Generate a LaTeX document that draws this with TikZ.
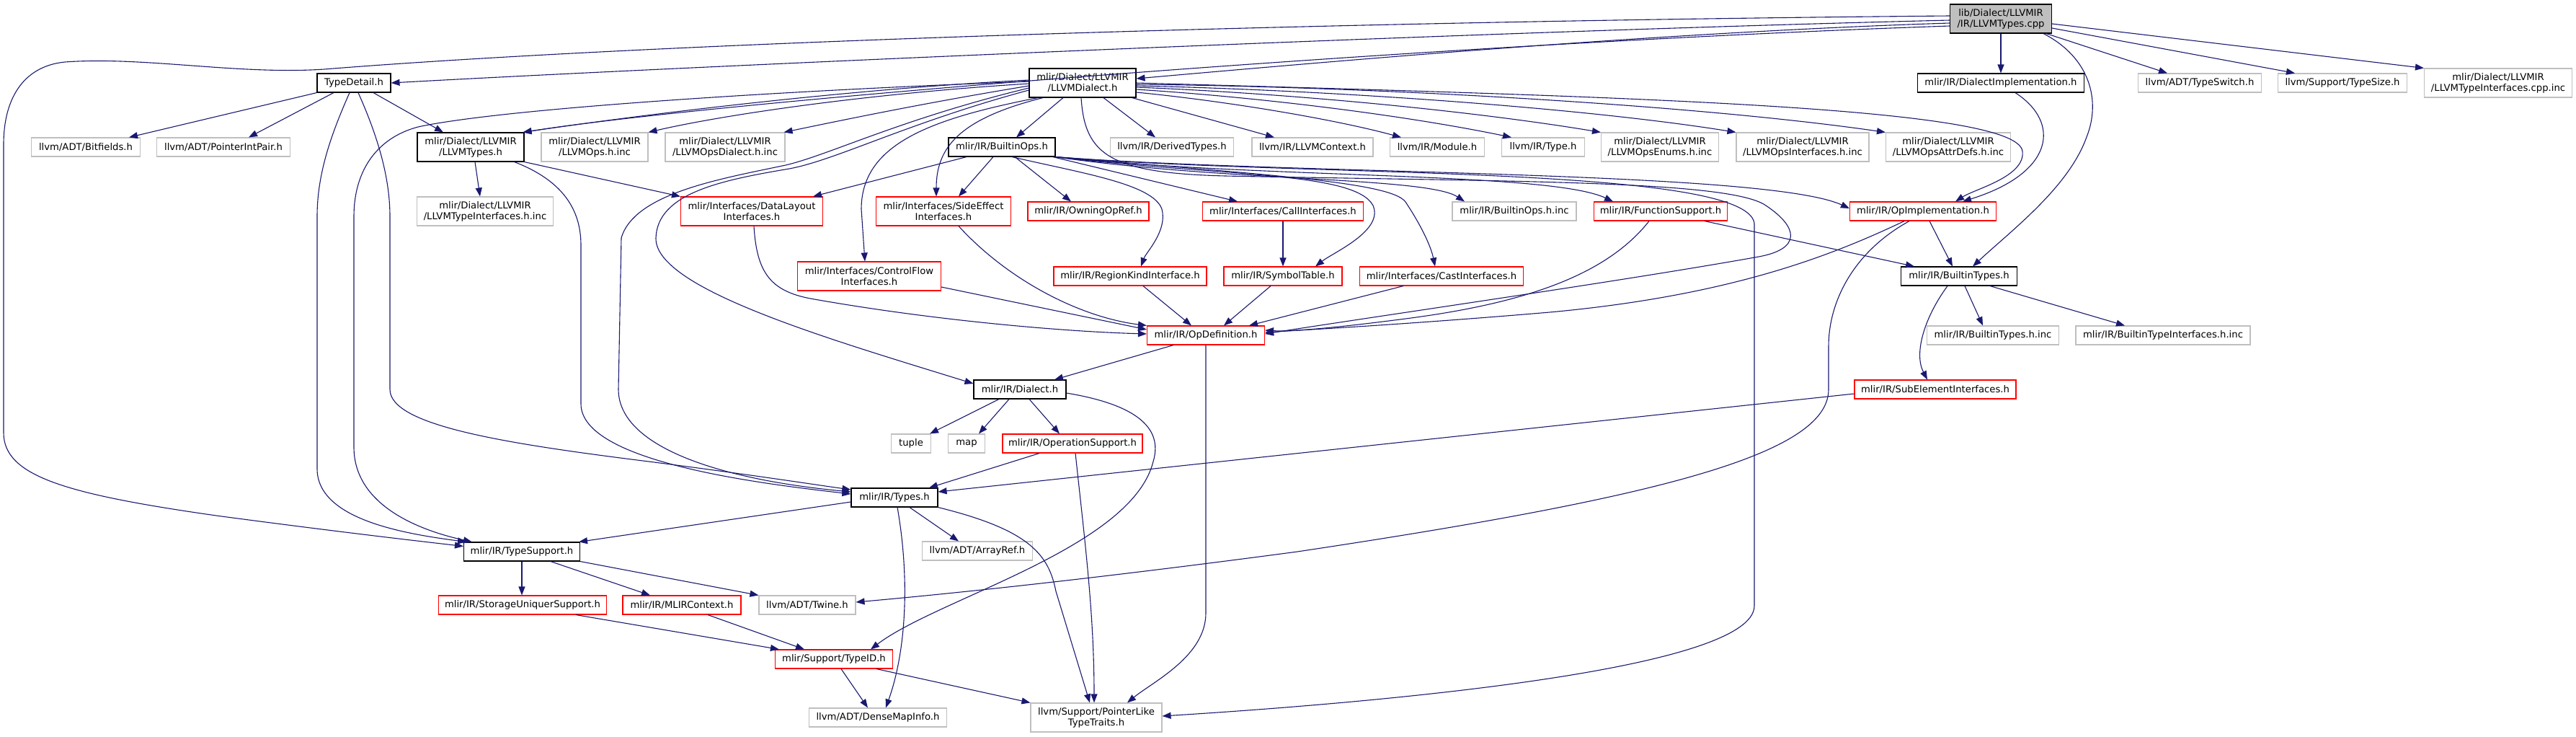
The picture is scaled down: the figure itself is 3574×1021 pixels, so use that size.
\documentclass[tikz,border=0pt]{standalone}
\usepackage{fontspec}
\newfontfamily\nodefam{DejaVu Sans}
\usetikzlibrary{arrows.meta}
\definecolor{edgec}{HTML}{191970}
\definecolor{grayb}{HTML}{BFBFBF}
\definecolor{mainfill}{HTML}{BFBFBF}
\definecolor{redb}{HTML}{FF0000}
\begin{document}
\begin{tikzpicture}[x=1pt,y=-1pt,
  box/.style={line width=1.1pt, inner sep=0pt, minimum height=26pt, align=center, font={\nodefam\fontsize{13.2}{15}\selectfont}},
  two/.style={minimum height=40pt},
  nb/.style={box, draw=black},
  ng/.style={box, draw=grayb},
  nr/.style={box, draw=redb},
  dep/.style={draw=edgec, line width=1.1pt, -{Triangle[length=12pt,width=9pt]}}]
\useasboundingbox (0,0) rectangle (3574,1021);
% nodes
\node[nb, two, fill=mainfill, minimum width=141pt] (cpp) at (2776,26) {lib/Dialect/LLVMIR\\/IR/LLVMTypes.cpp};
\node[nb, minimum width=102pt] (TD) at (491,115) {TypeDetail.h};
\node[nb, two, minimum width=148pt] (LD) at (1502,115) {mlir/Dialect/LLVMIR\\/LLVMDialect.h};
\node[nb, minimum width=231pt] (DI) at (2776,115) {mlir/IR/DialectImplementation.h};
\node[ng, minimum width=171pt] (TSw) at (3052,115) {llvm/ADT/TypeSwitch.h};
\node[ng, minimum width=179pt] (TSz) at (3250,115) {llvm/Support/TypeSize.h};
\node[ng, two, minimum width=205pt] (TIcpp) at (3466,115) {mlir/Dialect/LLVMIR\\/LLVMTypeInterfaces.cpp.inc};
\node[ng, minimum width=151pt] (BF) at (119,204) {llvm/ADT/Bitfields.h};
\node[ng, minimum width=185pt] (PIP) at (310,204) {llvm/ADT/PointerIntPair.h};
\node[nb, two, minimum width=148pt] (LT) at (653,204) {mlir/Dialect/LLVMIR\\/LLVMTypes.h};
\node[ng, two, minimum width=148pt] (LOI) at (825,204) {mlir/Dialect/LLVMIR\\/LLVMOps.h.inc};
\node[ng, two, minimum width=166pt] (LODI) at (1006,204) {mlir/Dialect/LLVMIR\\/LLVMOpsDialect.h.inc};
\node[nb, minimum width=148pt] (BO) at (1390,204) {mlir/IR/BuiltinOps.h};
\node[ng, minimum width=171pt] (DT) at (1626,204) {llvm/IR/DerivedTypes.h};
\node[ng, minimum width=168pt] (LC) at (1821,204) {llvm/IR/LLVMContext.h};
\node[ng, minimum width=131pt] (Mod) at (1994,204) {llvm/IR/Module.h};
\node[ng, minimum width=115pt] (Ty) at (2141,204) {llvm/IR/Type.h};
\node[ng, two, minimum width=163pt] (En) at (2303,204) {mlir/Dialect/LLVMIR\\/LLVMOpsEnums.h.inc};
\node[ng, two, minimum width=184pt] (OII) at (2501,204) {mlir/Dialect/LLVMIR\\/LLVMOpsInterfaces.h.inc};
\node[ng, two, minimum width=173pt] (AD) at (2703,204) {mlir/Dialect/LLVMIR\\/LLVMOpsAttrDefs.h.inc};
\node[ng, two, minimum width=189pt] (TII) at (673,293) {mlir/Dialect/LLVMIR\\/LLVMTypeInterfaces.h.inc};
\node[nr, two, minimum width=197pt] (DL) at (1043,293) {mlir/Interfaces/DataLayout\\Interfaces.h};
\node[nr, two, minimum width=187pt] (SE) at (1309,293) {mlir/Interfaces/SideEffect\\Interfaces.h};
\node[nr, minimum width=168pt] (OOR) at (1510,293) {mlir/IR/OwningOpRef.h};
\node[nr, minimum width=223pt] (CI) at (1780,293) {mlir/Interfaces/CallInterfaces.h};
\node[ng, minimum width=172pt] (BOI) at (2101,293) {mlir/IR/BuiltinOps.h.inc};
\node[nr, minimum width=185pt] (FS) at (2304,293) {mlir/IR/FunctionSupport.h};
\node[nr, minimum width=203pt] (OI) at (2668,293) {mlir/IR/OpImplementation.h};
\node[nr, two, minimum width=199pt] (CF) at (1206,383) {mlir/Interfaces/ControlFlow\\Interfaces.h};
\node[nr, minimum width=212pt] (RK) at (1568,383) {mlir/IR/RegionKindInterface.h};
\node[nr, minimum width=164pt] (ST) at (1780,383) {mlir/IR/SymbolTable.h};
\node[nr, minimum width=227pt] (CaI) at (2000,383) {mlir/Interfaces/CastInterfaces.h};
\node[nb, minimum width=161pt] (BT) at (2718,383) {mlir/IR/BuiltinTypes.h};
\node[nr, minimum width=163pt] (OD) at (1673,465) {mlir/IR/OpDefinition.h};
\node[ng, minimum width=183pt] (BTI) at (2765,465) {mlir/IR/BuiltinTypes.h.inc};
\node[ng, minimum width=242pt] (BTII) at (3001,465) {mlir/IR/BuiltinTypeInterfaces.h.inc};
\node[nb, minimum width=128pt] (Dia) at (1415,540) {mlir/IR/Dialect.h};
\node[nr, minimum width=224pt] (SEI) at (2685,540) {mlir/IR/SubElementInterfaces.h};
\node[ng, minimum width=55pt] (tup) at (1264,615) {tuple};
\node[ng, minimum width=51pt] (map) at (1341,615) {map};
\node[nr, minimum width=194pt] (OS) at (1488,615) {mlir/IR/OperationSupport.h};
\node[nb, minimum width=120pt] (Types) at (1241,690) {mlir/IR/Types.h};
\node[nb, minimum width=161pt] (TS) at (724,765) {mlir/IR/TypeSupport.h};
\node[ng, minimum width=153pt] (AR) at (1356,764) {llvm/ADT/ArrayRef.h};
\node[nr, minimum width=233pt] (SU) at (725,839) {mlir/IR/StorageUniquerSupport.h};
\node[nr, minimum width=164pt] (MC) at (946,839) {mlir/IR/MLIRContext.h};
\node[ng, minimum width=134pt] (Tw) at (1120,839) {llvm/ADT/Twine.h};
\node[nr, minimum width=163pt] (TID) at (1157,914) {mlir/Support/TypeID.h};
\node[ng, minimum width=191pt] (DMI) at (1218,995) {llvm/ADT/DenseMapInfo.h};
\node[ng, two, minimum width=182pt] (PL) at (1521,995) {llvm/Support/PointerLike\\TypeTraits.h};
% edges from cpp
\draw[dep] ([yshift=-2pt]cpp.west) .. controls (2000,45) and (900,95) .. (TD.east);
\draw[dep] ([yshift=-6pt]cpp.west) .. controls (2300,45) and (1850,85) .. ([yshift=6pt]LD.east);
\draw[dep] ([yshift=-10pt]cpp.west) .. controls (2000,60) and (1000,140) .. ([xshift=-2pt]LT.north east);
\draw[dep] ([yshift=4pt]cpp.west) .. controls (1800,30) and (900,60) .. (450,96) .. controls (330,104) and (200,78) .. (90,86) .. controls (30,92) and (5,140) .. (5,200) -- (5,600) .. controls (5,660) and (90,685) .. (300,715) .. controls (450,735) and (560,748) .. ([yshift=-6pt]TS.north west);
\draw[dep] (cpp.south) -- (DI.north);
\draw[dep] ([xshift=-8pt]cpp.south east) -- ([xshift=-45pt]TSw.north);
\draw[dep] ([yshift=-13pt]cpp.east) -- ([xshift=-66pt]TSz.north);
\draw[dep] ([yshift=-7pt]cpp.east) -- (TIcpp.north west);
\draw[dep] ([xshift=-12pt]cpp.south east) .. controls (2900,80) and (2915,140) .. (2895,190) .. controls (2870,260) and (2790,320) .. ([xshift=19pt]BT.north);
\draw[dep] ([xshift=20pt]DI.south) .. controls (2860,170) and (2850,240) .. ([xshift=55pt]OI.north);
% TypeDetail
\draw[dep] (TD.south west) -- ([xshift=60pt]BF.north);
\draw[dep] ([xshift=-28pt]TD.south) -- ([xshift=35pt]PIP.north);
\draw[dep] ([xshift=27pt]TD.south) -- ([xshift=-38pt]LT.north);
\draw[dep] ([xshift=-6pt]TD.south) .. controls (460,185) and (440,240) .. (440,300) -- (440,650) .. controls (440,720) and (560,740) .. ([xshift=4pt]TS.north west);
\draw[dep] ([xshift=6pt]TD.south) .. controls (520,180) and (541,240) .. (541,300) -- (541,540) .. controls (541,590) and (700,615) .. (900,640) .. controls (1040,658) and (1130,672) .. ([yshift=11pt]Types.west);
% LLVMDialect
\draw[dep] ([yshift=4pt]LD.west) .. controls (1150,125) and (850,165) .. ([xshift=-2pt]LT.north east);
\draw[dep] ([yshift=-1pt]LD.west) .. controls (1200,130) and (1000,160) .. (LOI.north east);
\draw[dep] ([yshift=-4pt]LD.west) .. controls (1300,140) and (1200,160) .. ([xshift=-2pt]LODI.north east);
\draw[dep] ([yshift=2pt]LD.west) .. controls (1100,125) and (700,150) .. (580,176) .. controls (520,192) and (491,240) .. (491,300) -- (491,620) .. controls (491,700) and (580,735) .. ([xshift=12pt]TS.north west);
\draw[dep] ([yshift=-7pt]LD.west) .. controls (1250,165) and (1150,215) .. (1090,229) .. controls (1000,248) and (880,268) .. (862,330) -- (858,540) .. controls (858,620) and (1000,665) .. ([yshift=8pt]Types.west);
\draw[dep] ([yshift=-10pt]LD.west) .. controls (1260,170) and (1160,222) .. (1095,234) .. controls (1000,250) and (912,268) .. (910,330) .. controls (908,400) and (1150,470) .. ([yshift=8pt]Dia.west);
\draw[dep] ([xshift=-62pt]LD.south) .. controls (1290,165) and (1195,200) .. (1195,290) -- ([xshift=-6pt]CF.north);
\draw[dep] ([xshift=-55pt]LD.south) .. controls (1330,165) and (1299,205) .. ([xshift=-10pt]SE.north);
\draw[dep] ([xshift=-27pt]LD.south) -- ([xshift=20pt]BO.north);
\draw[dep] ([xshift=29pt]LD.south) -- ([xshift=-23pt]DT.north);
\draw[dep] ([xshift=-6pt]LD.south east) -- ([xshift=-53pt]LC.north);
\draw[dep] ([yshift=-13pt]LD.east) .. controls (1700,140) and (1850,165) .. ([xshift=-50pt]Mod.north);
\draw[dep] ([yshift=-9pt]LD.east) .. controls (1750,135) and (1950,160) .. ([xshift=-44pt]Ty.north);
\draw[dep] ([yshift=-6pt]LD.east) .. controls (1800,130) and (2050,155) .. (En.north west);
\draw[dep] ([yshift=-4pt]LD.east) .. controls (1850,125) and (2200,150) .. (OII.north west);
\draw[dep] ([yshift=-2pt]LD.east) .. controls (1900,120) and (2350,145) .. (AD.north west);
\draw[dep] (LD.east) .. controls (2300,135) and (2800,150) .. (2806,210) .. controls (2810,245) and (2740,262) .. ([xshift=45pt]OI.north);
\draw[dep] ([xshift=-2pt]LD.south) .. controls (1505,215) and (1540,240) .. (1700,244) .. controls (2100,252) and (2400,250) .. (2450,285) .. controls (2495,315) and (2500,345) .. (2440,356) .. controls (2250,390) and (1900,440) .. ([yshift=2pt]OD.east);
% LLVMTypes
\draw[dep] ([xshift=6pt]LT.south) -- ([xshift=-7pt]TII.north);
\draw[dep] (LT.south east) -- (DL.north west);
\draw[dep] ([xshift=-14pt]LT.south east) .. controls (780,250) and (806,290) .. (806,340) -- (806,560) .. controls (806,640) and (1050,670) .. ([yshift=5pt]Types.west);
% BuiltinOps
\draw[dep] ([xshift=-49pt]BO.south) -- ([xshift=-14pt]DL.north east);
\draw[dep] ([xshift=-12pt]BO.south) -- ([xshift=21pt]SE.north);
\draw[dep] ([xshift=18pt]BO.south) -- ([xshift=-24pt]OOR.north);
\draw[dep] ([xshift=-4pt]BO.south east) -- ([xshift=-63pt]CI.north);
\draw[dep] ([xshift=14pt]BO.south) .. controls (1500,240) and (1600,255) .. (1612,290) .. controls (1620,320) and (1590,350) .. ([xshift=15pt]RK.north);
\draw[dep] ([xshift=-2pt]BO.south east) .. controls (1700,245) and (1880,238) .. (1905,285) .. controls (1920,320) and (1850,350) .. ([xshift=45pt]ST.north);
\draw[dep] (BO.south east) .. controls (1750,242) and (1930,252) .. (1950,280) .. controls (1970,310) and (1985,340) .. ([xshift=-9pt]CaI.north);
\draw[dep] (BO.south east) .. controls (1700,252) and (1980,245) .. ([xshift=-69pt]BOI.north);
\draw[dep] (BO.south east) .. controls (1750,248) and (2150,238) .. ([xshift=-66pt]FS.north);
\draw[dep] (BO.south east) .. controls (1780,242) and (2450,236) .. ([yshift=4pt]OI.west);
\draw[dep] (BO.south east) .. controls (1800,246) and (2425,228) .. (2434,310) -- (2434,840) .. controls (2434,930) and (1900,975) .. ([yshift=2pt]PL.east);
% middle
\draw[dep] (CI.south) -- (ST.north);
\draw[dep] ([xshift=-17pt]ST.south) -- ([xshift=25pt]OD.north);
\draw[dep] ([xshift=18pt]RK.south) -- ([xshift=-20pt]OD.north);
\draw[dep] ([xshift=-53pt]CaI.south) -- ([xshift=60pt]OD.north);
\draw[dep] ([xshift=21pt]SE.south) .. controls (1400,390) and (1500,440) .. (OD.north west);
\draw[dep] ([yshift=-15pt]CF.east) -- ([yshift=8pt]OD.west);
\draw[dep] ([xshift=3pt]DL.south) .. controls (1050,380) and (1070,405) .. (1130,415) .. controls (1300,445) and (1480,460) .. ([yshift=2pt]OD.west);
\draw[dep] ([xshift=-16pt]FS.south) .. controls (2230,380) and (2120,420) .. (1950,442) .. controls (1850,455) and (1790,460) .. ([yshift=7pt]OD.east);
\draw[dep] ([xshift=-26pt]OI.south) .. controls (2540,355) and (2400,410) .. (2150,433) .. controls (1950,450) and (1800,458) .. ([yshift=4pt]OD.east);
\draw[dep] ([xshift=61pt]FS.south) -- ([xshift=-62pt]BT.north);
\draw[dep] ([xshift=9pt]OI.south) -- ([xshift=-9pt]BT.north);
\draw[dep] ([xshift=-19pt]OI.south) .. controls (2570,350) and (2537,420) .. (2537,480) -- (2537,540) .. controls (2537,630) and (2300,690) .. (1800,765) .. controls (1500,805) and (1300,825) .. ([yshift=4pt]Tw.east);
\draw[dep] ([xshift=8pt]BT.south) -- ([xshift=-14pt]BTI.north);
\draw[dep] ([xshift=43pt]BT.south) -- ([xshift=-53pt]BTII.north);
\draw[dep] ([xshift=-16pt]BT.south) .. controls (2670,440) and (2655,490) .. ([xshift=-11pt]SEI.north);
\draw[dep] ([yshift=-6pt]SEI.west) -- ([yshift=8pt]Types.east);
% lower
\draw[dep] ([xshift=-45pt]OD.south) -- ([xshift=48pt]Dia.north);
\draw[dep] (OD.south) -- (1673,850) .. controls (1673,910) and (1600,945) .. ([xshift=43pt]PL.north);
\draw[dep] ([xshift=-29pt]Dia.south) -- ([xshift=-2pt]tup.north east);
\draw[dep] ([xshift=-15pt]Dia.south) -- ([xshift=17pt]map.north);
\draw[dep] ([xshift=13pt]Dia.south) -- ([xshift=-18pt]OS.north);
\draw[dep] ([yshift=-5pt]Dia.east) .. controls (1570,560) and (1615,590) .. (1600,640) .. controls (1570,760) and (1300,830) .. ([xshift=51pt]TID.north);
\draw[dep] ([xshift=-46pt]OS.south) -- ([xshift=48pt]Types.north);
\draw[dep] ([xshift=4pt]OS.south) .. controls (1505,750) and (1518,850) .. ([xshift=-3pt]PL.north);
\draw[dep] ([yshift=-6pt]Types.west) -- ([xshift=-2pt]TS.north east);
\draw[dep] ([xshift=21pt]Types.south) -- ([xshift=-26pt]AR.north);
\draw[dep] ([xshift=4pt]Types.south) .. controls (1262,800) and (1258,900) .. ([xshift=11pt]DMI.north);
\draw[dep] (Types.south east) .. controls (1430,735) and (1455,770) .. (1465,820) -- ([xshift=-9pt]PL.north);
\draw[dep] (TS.south) -- (TS.south |- SU.north);
\draw[dep] ([xshift=40pt]TS.south) -- ([xshift=-44pt]MC.north);
\draw[dep] (TS.south east) -- (Tw.north west);
\draw[dep] ([xshift=74pt]SU.south) -- ([xshift=6pt]TID.north west);
\draw[dep] ([xshift=36pt]MC.south) -- ([xshift=-41pt]TID.north);
\draw[dep] ([xshift=10pt]TID.south) -- ([xshift=-14pt]DMI.north);
\draw[dep] ([xshift=59pt]TID.south) -- (PL.north west);
\end{tikzpicture}
\end{document}
